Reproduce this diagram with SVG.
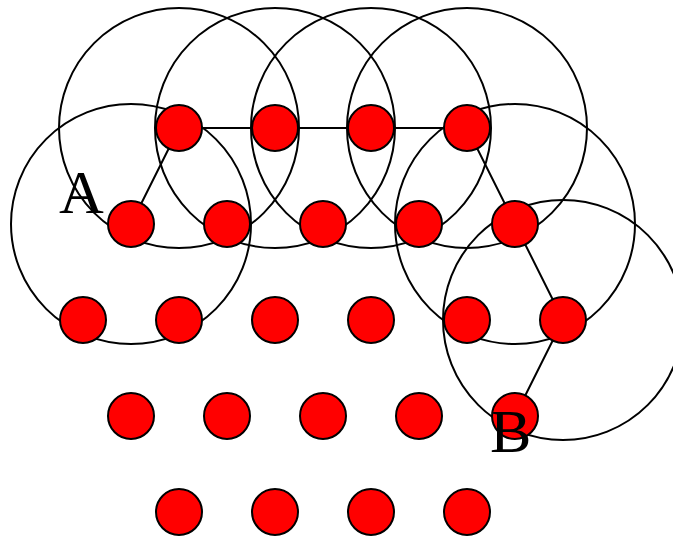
<svg xmlns="http://www.w3.org/2000/svg" width="673" height="539" viewBox="0 0 673 539">
<style>
.big{fill:none;stroke:#000;stroke-width:2}
.dot{fill:#ff0000;stroke:#000;stroke-width:2}
.path{fill:none;stroke:#000;stroke-width:2}
.lbl{font-family:"Liberation Serif","Times New Roman",serif;font-size:62px;fill:#000}
</style>
<g id="ranges">
<circle class="big" cx="179" cy="128" r="120"/>
<circle class="big" cx="275" cy="128" r="120"/>
<circle class="big" cx="371" cy="128" r="120"/>
<circle class="big" cx="467" cy="128" r="120"/>
<circle class="big" cx="131" cy="224" r="120"/>
<circle class="big" cx="515" cy="224" r="120"/>
<circle class="big" cx="563" cy="320" r="120"/>
</g>
<g id="connectors">
<polyline class="path" points="131,224 179,128 275,128 371,128 467,128 515,224 563,320 515,416"/>
</g>
<g id="nodes">
<g id="r1"><circle class="dot" cx="179" cy="128" r="23"/><circle class="dot" cx="275" cy="128" r="23"/><circle class="dot" cx="371" cy="128" r="23"/><circle class="dot" cx="467" cy="128" r="23"/></g>
<g id="r2"><circle class="dot" cx="131" cy="224" r="23"/><circle class="dot" cx="227" cy="224" r="23"/><circle class="dot" cx="323" cy="224" r="23"/><circle class="dot" cx="419" cy="224" r="23"/><circle class="dot" cx="515" cy="224" r="23"/></g>
<g id="r3"><circle class="dot" cx="83" cy="320" r="23"/><circle class="dot" cx="179" cy="320" r="23"/><circle class="dot" cx="275" cy="320" r="23"/><circle class="dot" cx="371" cy="320" r="23"/><circle class="dot" cx="467" cy="320" r="23"/><circle class="dot" cx="563" cy="320" r="23"/></g>
<g id="r4"><circle class="dot" cx="131" cy="416" r="23"/><circle class="dot" cx="227" cy="416" r="23"/><circle class="dot" cx="323" cy="416" r="23"/><circle class="dot" cx="419" cy="416" r="23"/><circle class="dot" cx="515" cy="416" r="23"/></g>
<g id="r5"><circle class="dot" cx="179" cy="512" r="23"/><circle class="dot" cx="275" cy="512" r="23"/><circle class="dot" cx="371" cy="512" r="23"/><circle class="dot" cx="467" cy="512" r="23"/></g>
</g>
<g id="labels">
<text class="lbl" x="59" y="213">A</text>
<text class="lbl" x="490" y="452">B</text>
</g>
</svg>
